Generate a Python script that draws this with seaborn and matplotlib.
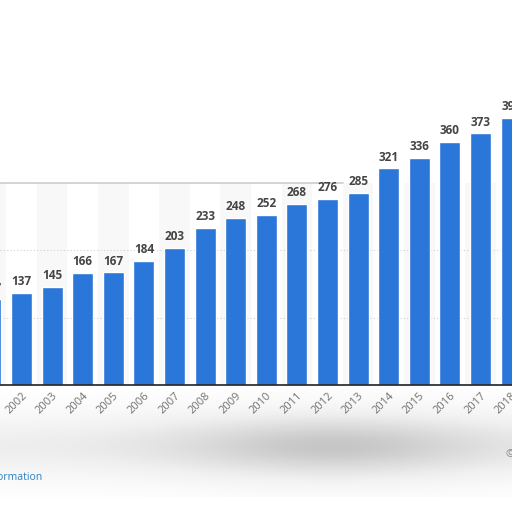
import numpy as np
import matplotlib
matplotlib.use("Agg")
import matplotlib.pyplot as plt
import seaborn as sns
import pandas as pd

# --- data ---
years = [str(y) for y in range(2001, 2019)]
values = [127, 137, 145, 166, 167, 184, 203, 233, 248, 252,
          268, 276, 285, 321, 336, 360, 373, 396]

BAR_BLUE = "#2a77d9"
df = pd.DataFrame({"year": years, "value": values})

sns.set_theme(style="white")
plt.rcParams['font.family'] = ['Open Sans', 'DejaVu Sans']

fig = plt.figure(figsize=(5.12, 5.12), dpi=100)
fig.patch.set_facecolor("white")

# soft grey shade under the axis (screenshot artefact)
shade = fig.add_axes([0, 0.03, 1, 0.22], zorder=0)
yy = np.linspace(0, 1, 60)[:, None]
xx = np.linspace(0, 1, 120)[None, :]
img = np.exp(-((yy - 0.55) ** 2) / 0.09) * (0.4 + 0.6 * np.exp(-((xx - 0.65) ** 2) / 0.1))
shade.imshow(img, cmap="Greys", vmin=0, vmax=3.0, aspect="auto", extent=[0, 1, 0, 1])
shade.axis("off")

# plot area: baseline at y=385px, ~0.675 px per unit
ax = fig.add_axes([0, 127 / 512, 1, 385 / 512], zorder=1)
ax.patch.set_alpha(0)
sns.barplot(data=df, x="year", y="value", color=BAR_BLUE, width=0.69,
            saturation=1, ax=ax, zorder=3)

ax.set_yticks([])
ax.set_xlabel("")
ax.set_ylabel("")
ax.set_xticks(range(len(years)))
ax.set_xticklabels(years, rotation=45, ha="right", rotation_mode="anchor")
ax.tick_params(axis="x", length=0, pad=4, labelsize=8, labelcolor="#707070")

# only part of the chart is visible: 2001 and 2018 are cut at the edges
ax.set_xlim(0.297, 17.03)
ax.set_ylim(0, 385 / 0.675)

# light panel behind the bars
for i in range(len(years)):
    if i % 2 == 0:
        ax.axvspan(i - 0.5, i + 0.5, ymax=300 / (385 / 0.675), color="#f8f8f8", zorder=0, lw=0)
ax.axhline(300, xmax=0.67, color="#cccccc", lw=1.2, zorder=1)
for g in (100, 200):
    ax.axhline(g, color="#cfcfcf", lw=0.8, ls=(0, (1, 2)), zorder=1)

for i, v in enumerate(values):
    ax.text(i, v + 7, str(v), ha="center", va="bottom", fontsize=8.5,
            fontweight="bold", color="#444444", zorder=4)

for s in ("top", "right", "left"):
    ax.spines[s].set_visible(False)
ax.spines["bottom"].set_color("#222222")
ax.spines["bottom"].set_linewidth(1.2)
ax.spines["bottom"].set_zorder(5)

fig.text(42 / 512, 1 - 478 / 512, "Additional Information", ha="right", va="center",
         fontsize=7.5, color="#2a7fc0")
fig.text(506 / 512, 1 - 455 / 512, "©", ha="left", va="center",
         fontsize=8, color="#888888")

fig.savefig("out.png", dpi=100)
